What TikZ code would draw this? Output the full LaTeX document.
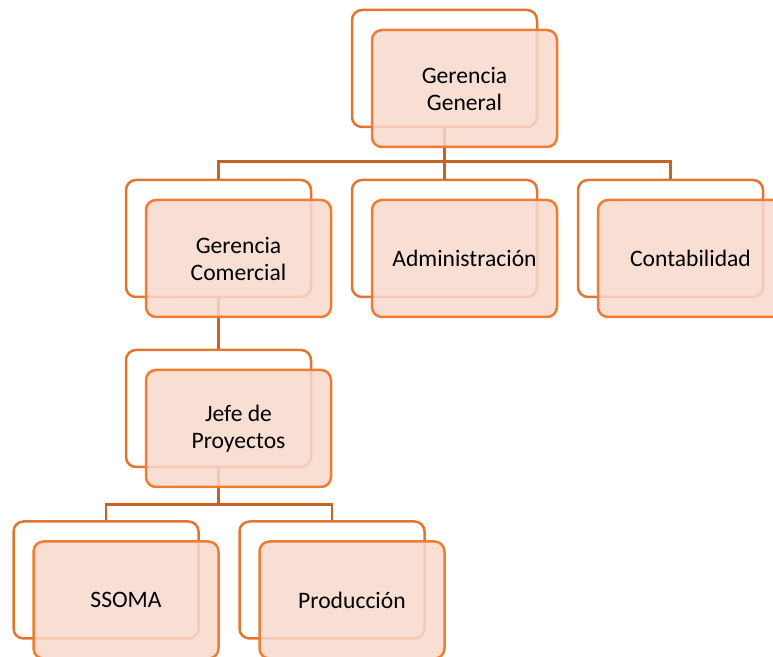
\documentclass[tikz,border=0pt]{standalone}
\usepackage{fontspec}
\setmainfont{Carlito}
\usetikzlibrary{positioning}
\definecolor{boxline}{RGB}{237,125,49}
\definecolor{backline}{RGB}{227,118,46}
\definecolor{boxfill}{RGB}{247,216,204}
\definecolor{linkline}{RGB}{197,98,40}
\begin{document}
\begin{tikzpicture}[x=0.5pt,y=-0.5pt,
	backbox/.style={draw=backline,line width=1.25pt,rounded corners=5pt,minimum width=92.5pt,minimum height=58.5pt,inner sep=0pt},
	frontbox/.style={draw=boxline,line width=1.25pt,rounded corners=5pt,fill=boxfill,fill opacity=0.86,text opacity=1,minimum width=92.5pt,minimum height=58.5pt,inner sep=0pt,align=center,font=\fontsize{11.8}{13.5}\selectfont},
	link/.style={draw=linkline,line width=1.4pt}]
	\useasboundingbox (0,0) rectangle (773,657);
	% back boxes
	\node[backbox] (ggb) at (444.5,68.5) {};
	\node[backbox] (gcb) at (218.5,238.5) {};
	\node[backbox] (adb) at (444.5,238.5) {};
	\node[backbox] (cob) at (670.5,238.5) {};
	\node[backbox] (jpb) at (218.5,408.5) {};
	\node[backbox] (ssb) at (106,580) {};
	\node[backbox] (prb) at (332,580) {};
	% connectors
	\draw[link] (ggb.south) -- ++(0,33) -| (gcb.north);
	\draw[link] (ggb.south) -- ++(0,33) -| (adb.north);
	\draw[link] (ggb.south) -- ++(0,33) -| (cob.north);
	\draw[link] (gcb.south) -- (jpb.north);
	\draw[link] (jpb.south) -- ++(0,36) -| (ssb.north);
	\draw[link] (jpb.south) -- ++(0,36) -| (prb.north);
	% front boxes
	\node[frontbox] (gg) at ([shift={(20,20)}]ggb) {Gerencia\\General};
	\node[frontbox] (gc) at ([shift={(20,20)}]gcb) {Gerencia\\Comercial};
	\node[frontbox] (ad) at ([shift={(20,20)}]adb) {Administración};
	\node[frontbox] (co) at ([shift={(20,20)}]cob) {Contabilidad};
	\node[frontbox] (jp) at ([shift={(20,20)}]jpb) {Jefe de\\Proyectos};
	\node[frontbox] (ss) at ([shift={(20,20)}]ssb) {SSOMA};
	\node[frontbox] (pr) at ([shift={(20,20)}]prb) {Producción};
\end{tikzpicture}
\end{document}
